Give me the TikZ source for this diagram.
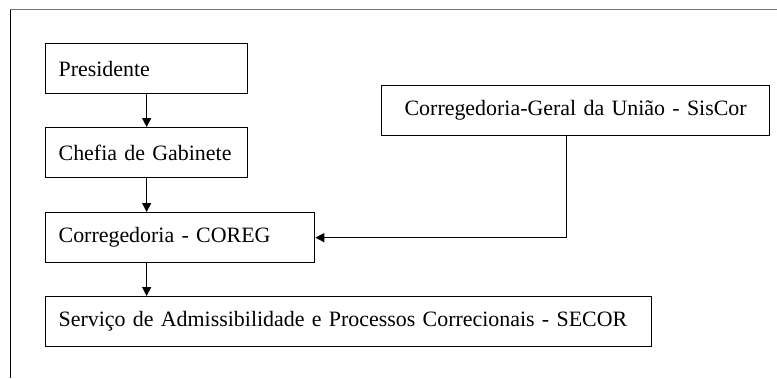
\documentclass[tikz,border=0pt]{standalone}
\usepackage{fontspec}
\setmainfont{Liberation Serif}
\usepackage{tikz}
\usetikzlibrary{arrows.meta}

\tikzset{
  orgbox/.style={draw, line width=1.3bp, anchor=north west, minimum height=50bp,
    inner xsep=13bp, align=left, font=\fontsize{22}{25}\selectfont},
  orglink/.style={line width=1.3bp, -{Triangle[length=9bp,width=9bp]}}
}

\begin{document}
\begin{tikzpicture}[x=1bp,y=-1bp]
\useasboundingbox (0,0) rectangle (777,378);
\draw [color=black!55, line width=1.2bp] (10,9.5) -- (777,9.5);
\draw [line width=1.2bp] (10.5,9.5) -- (10.5,378);
\node [orgbox, text width=176bp] (pres) at (45,43) {Presidente};
\node [orgbox, text width=176bp] (chefia) at (45,127) {Chefia de Gabinete};
\node [orgbox, text width=243bp] (coreg) at (45,212) {Corregedoria - COREG};
\node [orgbox, text width=580bp] (secor) at (45,296) {Serviço de Admissibilidade e Processos Correcionais - SECOR};
\node [orgbox, text width=362bp, align=center] (siscor) at (381,85) {Corregedoria-Geral da União - SisCor};
\draw [orglink] (pres.south) -- (chefia.north);
\draw [orglink] (chefia.south) -- (chefia.south |- coreg.north);
\draw [orglink] (chefia.south |- coreg.south) -- (chefia.south |- secor.north);
\draw [orglink] ([xshift=-9bp]siscor.south) |- (coreg.east);
\end{tikzpicture}
\end{document}
